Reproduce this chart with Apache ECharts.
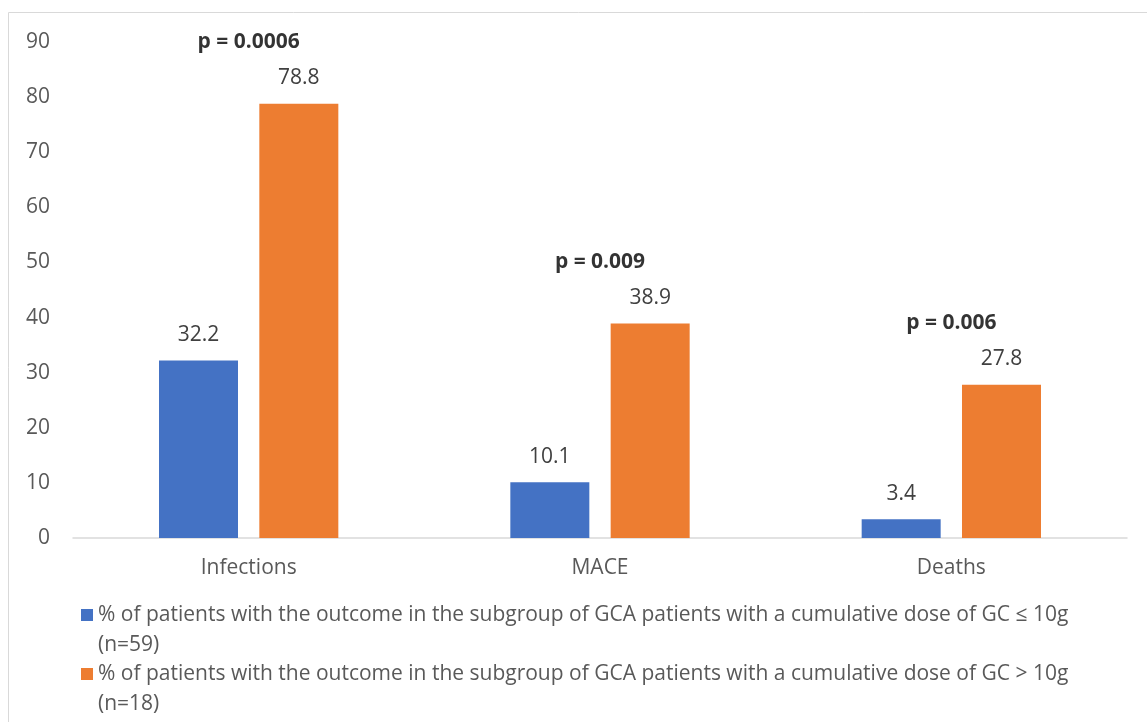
<!DOCTYPE html>
<html>
<head>
<meta charset="utf-8">
<script src="https://cdn.jsdelivr.net/npm/echarts@6/dist/echarts.min.js"></script>
<style>
  html, body { margin: 0; padding: 0; background: #fff; }
  #main { width: 1147px; height: 722px; }
</style>
</head>
<body>
<div id="main"></div>
<script>
var categories = ['Infections', 'MACE', 'Deaths'];
var lowDose = [32.2, 10.1, 3.4];
var highDose = [78.8, 38.9, 27.8];
var pValues = ['p = 0.0006', 'p = 0.009', 'p = 0.006'];
var seriesNames = [
  '% of patients with the outcome in the subgroup of GCA patients with a cumulative dose of GC ≤ 10g (n=59)',
  '% of patients with the outcome in the subgroup of GCA patients with a cumulative dose of GC > 10g (n=18)'
];
var yTicks = { min: 0, max: 90, interval: 10 };

var chart = echarts.init(document.getElementById('main'));
var font = 'Open Sans';

var option = {
  animation: false,
  textStyle: { fontFamily: font },
  graphic: [{
    type: 'rect',
    shape: { x: 8.5, y: 12.5, width: 1160, height: 740 },
    style: { fill: 'none', stroke: '#d9d9d9', lineWidth: 1 },
    silent: true
  }],
  grid: { left: 73, right: 20, top: 42, bottom: 184 },
  legend: {
    orient: 'vertical',
    left: 76,
    top: 565,
    height: 400,
    itemWidth: 12,
    itemHeight: 12,
    itemGap: -31,
    icon: 'rect',
    data: seriesNames,
    // empty first line keeps the swatch level with the first text line
    formatter: function (name) {
      var cut = name.lastIndexOf(' (');
      return '\n' + name.slice(0, cut) + '\n' + name.slice(cut + 1);
    },
    textStyle: {
      fontFamily: font,
      fontSize: 21,
      color: '#595959',
      lineHeight: 30
    }
  },
  xAxis: {
    type: 'category',
    data: categories,
    axisLine: { lineStyle: { color: '#d9d9d9', width: 1.5 } },
    axisTick: { show: false },
    axisLabel: { color: '#595959', fontSize: 21, margin: 20, fontFamily: font }
  },
  yAxis: {
    type: 'value',
    min: yTicks.min,
    max: yTicks.max,
    interval: yTicks.interval,
    splitLine: { show: false },
    axisLine: { show: false },
    axisTick: { show: false },
    axisLabel: { color: '#595959', fontSize: 21, margin: 23, fontFamily: font }
  },
  series: [
    {
      name: seriesNames[0],
      type: 'bar',
      data: lowDose,
      barWidth: 79,
      barGap: '27%',
      itemStyle: { color: '#4472C4' },
      label: { show: true, position: 'top', distance: 15, color: '#404040', fontSize: 21, fontFamily: font }
    },
    {
      name: seriesNames[1],
      type: 'bar',
      data: highDose,
      barWidth: 79,
      itemStyle: { color: '#ED7D31' },
      label: { show: true, position: 'top', distance: 15, color: '#404040', fontSize: 21, fontFamily: font }
    },
    {
      type: 'scatter',
      data: highDose,
      symbolSize: 0,
      silent: true,
      label: {
        show: true,
        position: 'top',
        distance: 51,
        color: '#000',
        fontWeight: 'bold',
        fontSize: 21,
        fontFamily: font,
        formatter: function (p) { return pValues[p.dataIndex]; }
      }
    }
  ]
};
chart.setOption(option);
window.onresize = chart.resize;
</script>
</body>
</html>
